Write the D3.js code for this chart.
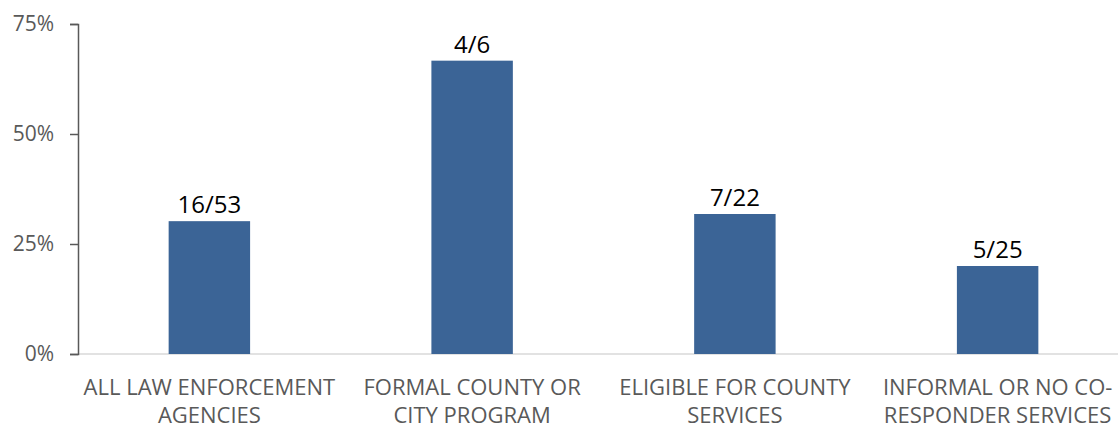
<!DOCTYPE html>
<html>
<head>
<meta charset="utf-8">
<script src="https://cdn.jsdelivr.net/npm/d3@7"></script>
<style>
  body { margin: 0; background: #fff; }
  svg { display: block; font-family: "Open Sans", sans-serif; }
</style>
</head>
<body>
<svg width="1118" height="428"></svg>
<script>
// data
var categories = [
    ["ALL LAW ENFORCEMENT", "AGENCIES"],
    ["FORMAL COUNTY OR", "CITY PROGRAM"],
    ["ELIGIBLE FOR COUNTY", "SERVICES"],
    ["INFORMAL OR NO CO-", "RESPONDER SERVICES"]
];
var counts = [16, 4, 7, 5];
var totals = [53, 6, 22, 25];
var yTicks = [0, 0.25, 0.5, 0.75];

var svg = d3.select("svg"),
    width = +svg.attr("width"),
    height = +svg.attr("height");

var x0 = 78, yBase = 354, yTop = 24;

var x = d3.scaleBand()
    .domain(d3.range(categories.length))
    .range([x0, 1129])
    .paddingInner(0.69)
    .paddingOuter(0.345);

var y = d3.scaleLinear()
    .domain([0, 0.75])
    .range([yBase, yTop]);

// baseline
svg.append("line")
    .attr("x1", x0).attr("x2", width)
    .attr("y1", y(0)).attr("y2", y(0))
    .style("stroke", "#d9d9d9")
    .style("stroke-width", 1.5);

// y axis
var yAxis = svg.append("g")
    .attr("transform", "translate(" + x0 + ",0)")
    .call(d3.axisLeft(y)
        .tickValues(yTicks)
        .tickSize(8)
        .tickPadding(16)
        .tickFormat(d3.format(".0%")));
yAxis.attr("font-size", null).attr("font-family", null);
yAxis.select(".domain").style("stroke", "#595959").style("stroke-width", 1.5);
yAxis.selectAll(".tick line").style("stroke", "#595959").style("stroke-width", 1.5);
yAxis.selectAll(".tick text")
    .style("font-size", "21px")
    .style("fill", "#595959");

// bars
svg.selectAll("rect.bar")
    .data(counts)
    .enter()
    .append("rect")
    .attr("class", "bar")
    .attr("x", function (d, i) { return x(i); })
    .attr("width", x.bandwidth())
    .attr("y", function (d, i) { return y(d / totals[i]); })
    .attr("height", function (d, i) { return y(0) - y(d / totals[i]); })
    .style("fill", "#3b6496");

// value labels
svg.selectAll("text.val")
    .data(counts)
    .enter()
    .append("text")
    .attr("class", "val")
    .attr("x", function (d, i) { return x(i) + x.bandwidth() / 2; })
    .attr("y", function (d, i) { return y(d / totals[i]) - 8; })
    .attr("text-anchor", "middle")
    .style("font-size", "24px")
    .style("fill", "#000")
    .text(function (d, i) { return d + "/" + totals[i]; });

// category labels
var cat = svg.selectAll("text.cat")
    .data(categories)
    .enter()
    .append("text")
    .attr("class", "cat")
    .attr("text-anchor", "middle")
    .style("font-size", "22px")
    .style("fill", "#595959");
cat.selectAll("tspan")
    .data(function (d, i) { return d.map(function (s) { return {s: s, i: i}; }); })
    .enter()
    .append("tspan")
    .attr("x", function (d) { return x(d.i) + x.bandwidth() / 2; })
    .attr("y", function (d, j) { return 395 + j * 28; })
    .text(function (d) { return d.s; });
</script>
</body>
</html>
